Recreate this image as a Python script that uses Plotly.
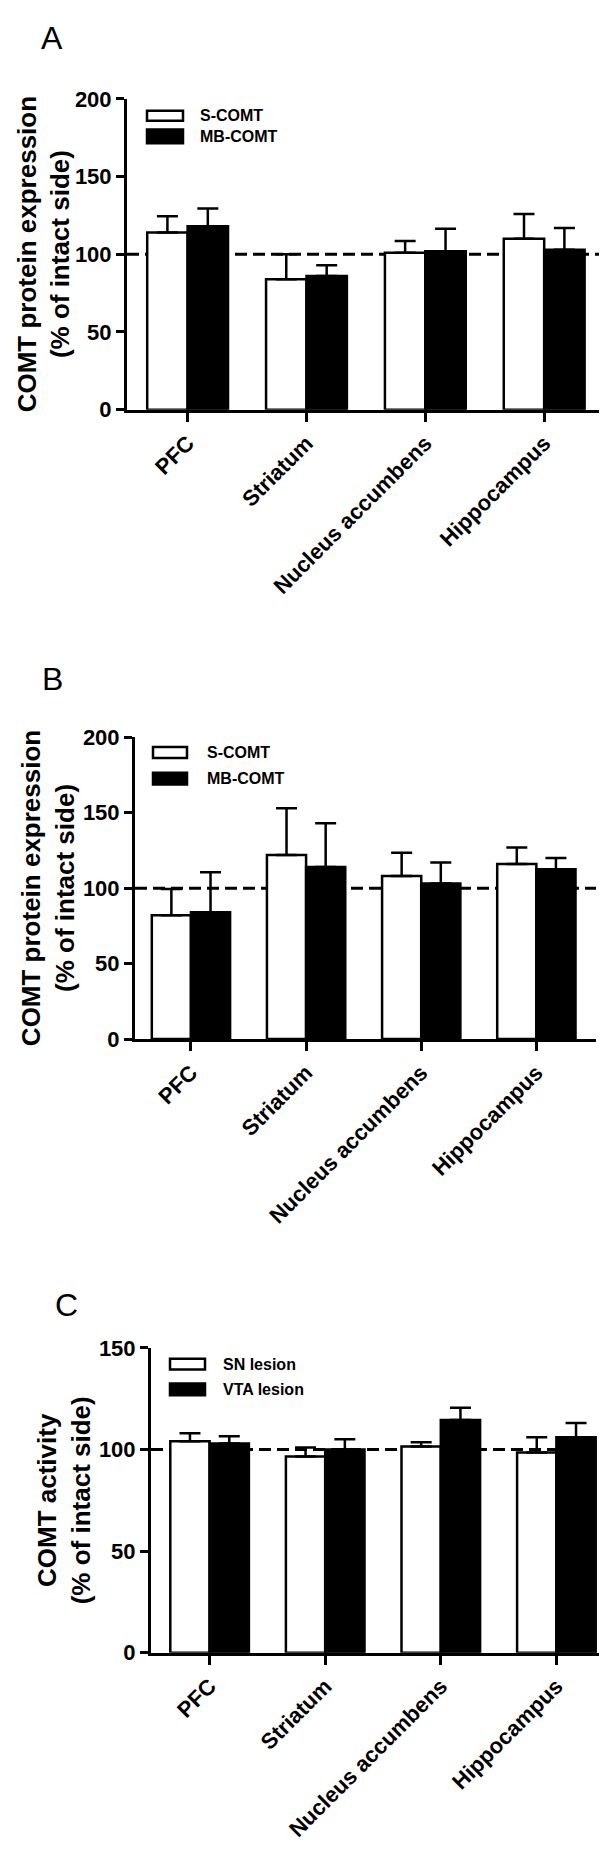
import plotly.graph_objects as go

# ============================================================================
# DATA
# ============================================================================

regions = ["PFC", "Striatum", "Nucleus accumbens", "Hippocampus"]

# Panel A - COMT protein expression
a_series = ["S-COMT", "MB-COMT"]
a_s_comt = [114, 84, 101, 110]
a_s_comt_err = [10.5, 16, 7.5, 16]
a_mb_comt = [118, 86, 102, 103]
a_mb_comt_err = [11.5, 7, 14.5, 14]

# Panel B - COMT protein expression
b_series = ["S-COMT", "MB-COMT"]
b_s_comt = [82, 122, 108, 116]
b_s_comt_err = [17.5, 31, 15.5, 11]
b_mb_comt = [84, 114, 103, 112.5]
b_mb_comt_err = [26.5, 29, 14, 7.5]

# Panel C - COMT activity
c_series = ["SN lesion", "VTA lesion"]
c_sn = [104, 96.5, 101.5, 98.5]
c_sn_err = [4, 4.5, 2, 7.5]
c_vta = [103, 100, 114.5, 106]
c_vta_err = [3.5, 5, 6, 7]

a_yticks = [0, 50, 100, 150, 200]
b_yticks = [0, 50, 100, 150, 200]
c_yticks = [0, 50, 100, 150]
reference_level = 100

# ============================================================================
# LAYOUT HELPERS (pixel positions -> paper fractions)
# ============================================================================

W, H = 607, 1856
FONT = "Liberation Sans, Arial, sans-serif"


def px(x):
    return x / W


def py(y):
    return 1 - y / H


panels = [
    dict(letter="A", letter_xy=(44, 18),
         xdom=(119, 598), ydom=(80, 395), xr=[-0.51, 3.52], yr=[0, 200],
         yticks=a_yticks, title="COMT protein expression<br>(% of intact side)",
         title_x=36, names=a_series,
         white=(a_s_comt, a_s_comt_err), black=(a_mb_comt, a_mb_comt_err),
         leg_box_x=(139, 175), leg_white_y=(92, 102), leg_black_y=(111, 125),
         leg_text_x=190),
    dict(letter="B", letter_xy=(44, 668),
         xdom=(127, 588), ydom=(727, 1033), xr=[-0.486, 3.518], yr=[0, 200],
         yticks=b_yticks, title="COMT protein expression<br>(% of intact side)",
         title_x=40, names=b_series,
         white=(b_s_comt, b_s_comt_err), black=(b_mb_comt, b_mb_comt_err),
         leg_box_x=(145, 179), leg_white_y=(737, 748), leg_black_y=(763, 775),
         leg_text_x=197),
    dict(letter="C", letter_xy=(58, 1303),
         xdom=(143, 607), ydom=(1346, 1655), xr=[-0.507, 3.507], yr=[0, 150],
         yticks=c_yticks, title="COMT activity<br>(% of intact side)",
         title_x=56, names=c_series,
         white=(c_sn, c_sn_err), black=(c_vta, c_vta_err),
         leg_box_x=(162, 197), leg_white_y=(1357, 1368), leg_black_y=(1382, 1394),
         leg_text_x=213),
]

fig = go.Figure()
shapes = []
annotations = []
layout_axes = {}

for i, p in enumerate(panels, start=1):
    sfx = "" if i == 1 else str(i)
    xa, ya = "x" + sfx, "y" + sfx

    for (vals, errs), fill in [(p["white"], "white"), (p["black"], "black")]:
        fig.add_trace(go.Bar(
            x=regions, y=vals,
            xaxis=xa, yaxis=ya,
            marker=dict(color=fill, line=dict(color="black", width=2.5)),
            error_y=dict(type="data", array=errs, arrayminus=[0] * len(errs),
                         symmetric=False, color="black", thickness=2.5, width=10.5),
            showlegend=False,
        ))

    layout_axes["xaxis" + sfx] = dict(
        domain=[px(p["xdom"][0]), px(p["xdom"][1])],
        range=p["xr"], anchor=ya,
        showline=True, linecolor="black", linewidth=3,
        ticks="outside", ticklen=9, tickwidth=2.5, tickcolor="black",
        tickangle=-45, tickfont=dict(family=FONT, size=22, color="black", weight="bold"),
        showgrid=False, zeroline=False,
    )
    layout_axes["yaxis" + sfx] = dict(
        domain=[py(p["ydom"][1]), py(p["ydom"][0])],
        range=p["yr"], anchor=xa, tickvals=p["yticks"],
        showline=True, linecolor="black", linewidth=3,
        ticks="outside", ticklen=8, tickwidth=2.5, tickcolor="black",
        tickfont=dict(family=FONT, size=22, color="black", weight="bold"),
        showgrid=False, zeroline=False,
    )

    # dashed 100 % reference line
    shapes.append(dict(
        type="line", xref=xa + " domain", yref=ya,
        x0=0, x1=1, y0=reference_level, y1=reference_level,
        line=dict(color="black", width=3, dash="12px,6px"), layer="below",
    ))

    # legend swatches + labels
    bx0, bx1 = p["leg_box_x"]
    for (yy0, yy1), fill, name in [(p["leg_white_y"], "white", p["names"][0]),
                                   (p["leg_black_y"], "black", p["names"][1])]:
        shapes.append(dict(
            type="rect", xref="paper", yref="paper",
            x0=px(bx0), x1=px(bx1), y0=py(yy1), y1=py(yy0),
            fillcolor=fill, line=dict(color="black", width=2.5),
        ))
        annotations.append(dict(
            text=name, xref="paper", yref="paper",
            x=px(p["leg_text_x"]), y=py((yy0 + yy1) / 2),
            xanchor="left", yanchor="middle", showarrow=False,
            font=dict(family=FONT, size=16, color="black", weight="bold"),
        ))

    # y-axis title
    annotations.append(dict(
        text=p["title"], xref="paper", yref="paper",
        x=px(p["title_x"]), y=py((p["ydom"][0] + p["ydom"][1]) / 2),
        xanchor="center", yanchor="middle", textangle=-90, showarrow=False,
        font=dict(family=FONT, size=26, color="black", weight="bold"),
    ))

    # panel letter
    lx, ly = p["letter_xy"]
    annotations.append(dict(
        text=p["letter"], xref="paper", yref="paper",
        x=px(lx), y=py(ly), xanchor="center", yanchor="middle", showarrow=False,
        font=dict(family=FONT, size=32, color="black"),
    ))

fig.update_layout(
    width=W, height=H,
    margin=dict(l=0, r=0, t=0, b=0),
    paper_bgcolor="white", plot_bgcolor="white",
    barmode="group", bargap=0.32, bargroupgap=0,
    shapes=shapes, annotations=annotations,
    **layout_axes,
)

fig.write_html("out.html")
